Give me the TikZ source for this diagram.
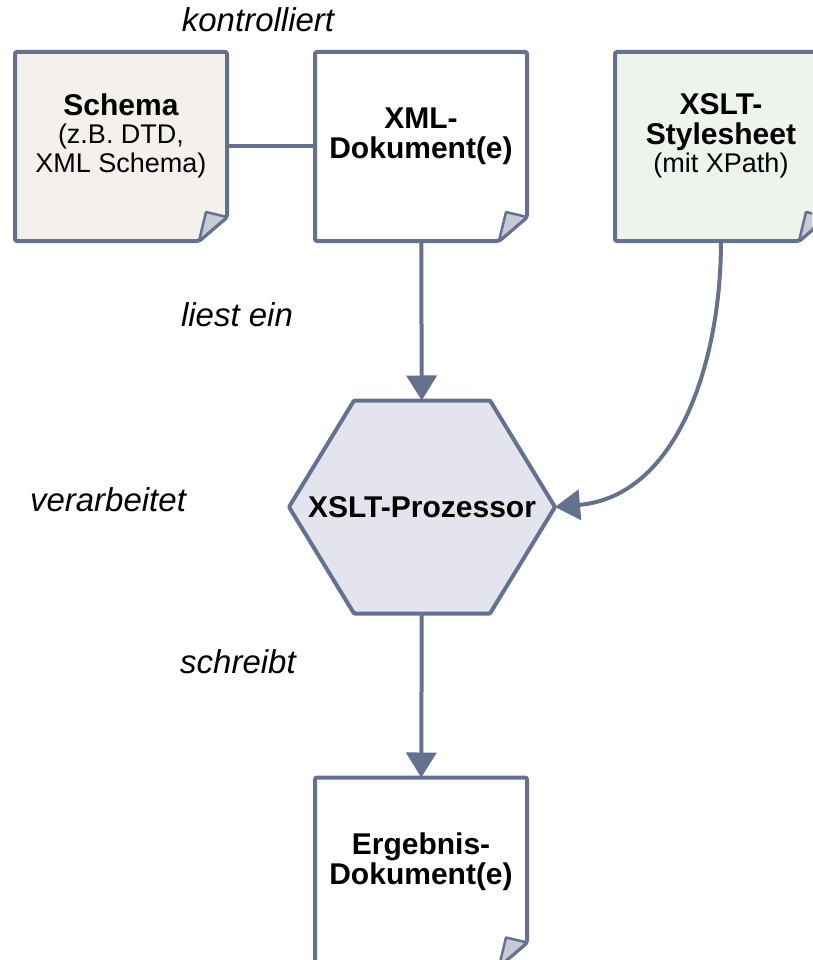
\documentclass[tikz,border=0pt]{standalone}
\usepackage{fontspec}
\setmainfont{Liberation Sans}
\usetikzlibrary{arrows.meta, calc, backgrounds}

\definecolor{edgeblue}{RGB}{102,112,143}
\definecolor{schemafill}{RGB}{244,241,236}
\definecolor{xsltfill}{RGB}{238,244,236}
\definecolor{procfill}{RGB}{228,228,238}
\definecolor{flapfill}{RGB}{200,203,212}

\newcommand{\titlefont}{\fontsize{30}{31}\selectfont\bfseries}
\newcommand{\subfont}{\fontsize{27}{29}\selectfont\mdseries}
\renewcommand{\arraystretch}{0.92}

% text of a document, a bit above its middle
\newcommand{\doctext}[1]{\raisebox{3pt}[0pt][0pt]{\begin{tabular}{@{}c@{}}#1\end{tabular}}}

% outline with folded corner at the bottom right of a document node
\newcommand{\docframe}[2]{%
    \begin{pgfonlayer}{background}
    \filldraw[docline, fill=#2] (#1.north west) -- (#1.north east)
        -- ($(#1.south east)+(0,24)$) -- ($(#1.south east)+(-28,0)$)
        -- (#1.south west) -- cycle;
    \end{pgfonlayer}
    \filldraw[flap] ($(#1.south east)+(0,24)$) -- ($(#1.south east)+(-28,0)$)
        -- ($(#1.south east)+(-21,29)$) -- cycle;}

\begin{document}
\begin{tikzpicture}[
    x=1pt, y=1pt,
    docbox/.style={rectangle, minimum width=212pt, minimum height=189pt,
                   outer sep=0pt, inner sep=0pt, font=\titlefont},
    docline/.style={draw=edgeblue, line width=4pt, rounded corners=2pt},
    flap/.style={draw=edgeblue, fill=flapfill, line width=2.5pt, line join=round},
    conn/.style={draw=edgeblue, line width=4pt},
    arrow/.style={conn, -{Triangle[length=25pt, width=30pt]}},
    lbl/.style={font=\fontsize{33}{36}\selectfont\itshape}
]
    \useasboundingbox (0,0) rectangle (812,-960);
    \clip (0,0) rectangle (812,-960);

    % Documents on top
    \node[docbox] (schema) at (121,-146.5)
        {\doctext{Schema\\ \subfont (z.B. DTD,\\ \subfont XML Schema)}};
    \node[docbox] (xml) at (421,-146.5)
        {\doctext{XML-\\ Dokument(e)}};
    \node[docbox] (xslt) at (721,-146.5)
        {\doctext{XSLT-\\ Stylesheet\\ \subfont (mit XPath)}};
    \docframe{schema}{schemafill}
    \docframe{xml}{white}
    \docframe{xslt}{xsltfill}

    % Processor (hexagon)
    \node[rectangle, minimum width=266pt, minimum height=213pt, outer sep=0pt,
          inner sep=0pt, font=\titlefont] (proc) at (422,-507) {XSLT-Prozessor};
    \begin{pgfonlayer}{background}
    \filldraw[docline, rounded corners=1pt, fill=procfill]
        (proc.west) -- ($(proc.north west)+(65,0)$) -- ($(proc.north east)+(-65,0)$)
        -- (proc.east) -- ($(proc.south east)+(-65,0)$) -- ($(proc.south west)+(65,0)$)
        -- cycle;
    \end{pgfonlayer}

    % Result
    \node[docbox] (result) at (421,-872)
        {\doctext{Ergebnis-\\ Dokument(e)}};
    \docframe{result}{white}

    % Connectors
    \draw[conn] (schema.east) -- (xml.west);
    \draw[arrow] (xml) -- (proc);
    \draw[arrow] (xslt.south) to[out=-90, in=5, looseness=1] (proc.east);
    \draw[arrow] (proc) -- (result);

    % Labels
    \node[lbl] (kontr) at (258,-20) {kontrolliert};
    \node[lbl] (liest) at (237,-315) {liest ein};
    \node[lbl] (verarb) at (108,-500) {verarbeitet};
    \node[lbl] (schreibt) at (238,-662) {schreibt};
\end{tikzpicture}
\end{document}
